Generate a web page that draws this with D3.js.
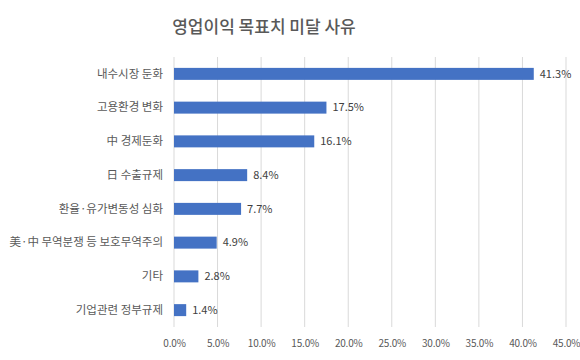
<!DOCTYPE html>
<html><head><meta charset="utf-8">
<script src="https://cdn.jsdelivr.net/npm/d3@7"></script>
<style>body{margin:0;background:#fff;}svg{display:block;}</style>
</head><body>
<script>
const categories = ["내수시장 둔화","고용환경 변화","中 경제둔화","日 수출규제","환율·유가변동성 심화","美·中 무역분쟁 등 보호무역주의","기타","기업관련 정부규제"];
const values = [41.3,17.5,16.1,8.4,7.7,4.9,2.8,1.4];
const ticks = [0,5,10,15,20,25,30,35,40,45];
const title = "영업이익 목표치 미달 사유";

const W=580,H=360;
const m={left:174,right:14,top:57,bottom:33};
const font='"Noto Sans CJK KR","Noto Sans",sans-serif';
const svg=d3.select("body").append("svg").attr("width",W).attr("height",H);
const x=d3.scaleLinear().domain([0,45]).range([m.left,W-m.right]);
const y=d3.scaleBand().domain(categories).range([m.top,H-m.bottom]).paddingInner(0.645).paddingOuter(0.3225);

svg.append("text").attr("x",264).attr("y",33).attr("text-anchor","middle")
  .attr("font-family",font).attr("font-size",17).attr("font-weight",500).attr("fill","#595959").text(title);

svg.append("g").selectAll("line").data(ticks).join("line")
  .attr("x1",d=>x(d)).attr("x2",d=>x(d)).attr("y1",m.top).attr("y2",H-m.bottom)
  .attr("stroke","#d9d9d9").attr("stroke-width",1);

const xa=svg.append("g").attr("transform",`translate(0,${H-m.bottom})`)
  .call(d3.axisBottom(x).tickValues(ticks).tickFormat(d=>d.toFixed(1)+"%").tickSize(0).tickPadding(13));
xa.select(".domain").remove();
xa.selectAll("text").attr("font-family",font).attr("font-size",10).attr("letter-spacing",-0.2).attr("fill","#595959");

const ya=svg.append("g").attr("transform",`translate(${m.left},0)`)
  .call(d3.axisLeft(y).tickSize(0).tickPadding(11));
ya.select(".domain").remove();
ya.selectAll("text").attr("font-family",font).attr("font-size",11.5).attr("fill","#595959");

svg.append("g").selectAll("rect").data(values).join("rect")
  .attr("x",x(0)).attr("y",(d,i)=>y(categories[i])).attr("height",y.bandwidth())
  .attr("width",d=>x(d)-x(0)).attr("fill","#4472c4");

svg.append("g").selectAll("text").data(values).join("text")
  .attr("x",d=>x(d)+6).attr("y",(d,i)=>y(categories[i])+y.bandwidth()/2).attr("dy","0.35em")
  .attr("font-family",font).attr("font-size",11).attr("fill","#404040").text(d=>d.toFixed(1)+"%");
</script>
</body></html>
